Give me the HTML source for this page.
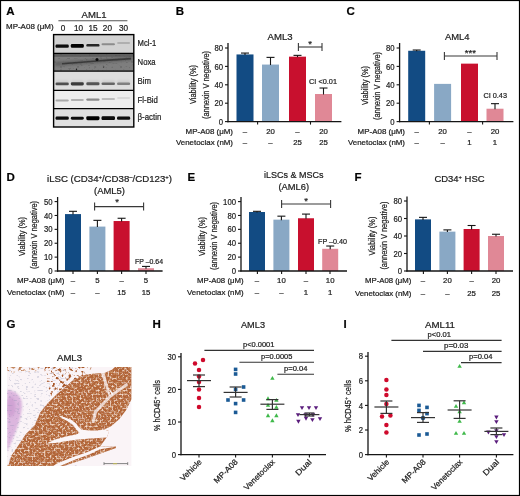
<!DOCTYPE html><html><head><meta charset="utf-8"><style>html,body{margin:0;padding:0;background:#fff;}svg{display:block;will-change:transform;}text{font-family:"Liberation Sans", sans-serif;stroke:#222;stroke-width:0.22px;}</style></head><body>
<svg width="520" height="496" viewBox="0 0 520 496">
<defs>
<filter id="blur1" x="-20%" y="-80%" width="140%" height="260%"><feGaussianBlur stdDeviation="0.5"/></filter>
<filter id="blur2" x="-20%" y="-50%" width="140%" height="200%"><feGaussianBlur stdDeviation="1.2"/></filter>
<filter id="tex" x="0" y="0" width="100%" height="100%">
  <feTurbulence type="fractalNoise" baseFrequency="0.5" numOctaves="2" seed="3" result="n"/>
  <feColorMatrix in="n" type="matrix" values="0 0 0 0 0.91  0 0 0 0 0.72  0 0 0 0 0.60  0 0 0 3.6 -1.8" result="m"/>
  <feGaussianBlur in="m" stdDeviation="0.5" result="mb"/>
  <feComposite in="mb" in2="SourceGraphic" operator="in" result="spots"/>
  <feTurbulence type="fractalNoise" baseFrequency="0.45" numOctaves="2" seed="17" result="n2"/>
  <feColorMatrix in="n2" type="matrix" values="0 0 0 0 0.62  0 0 0 0 0.31  0 0 0 0 0.15  0 0 0 -3.6 1.85" result="m2"/>
  <feGaussianBlur in="m2" stdDeviation="0.5" result="mb2"/>
  <feComposite in="mb2" in2="SourceGraphic" operator="in" result="dspots"/>
  <feMerge><feMergeNode in="SourceGraphic"/><feMergeNode in="dspots"/><feMergeNode in="spots"/></feMerge>
  <feGaussianBlur stdDeviation="0.4"/>
</filter>
<filter id="specks" x="0" y="0" width="100%" height="100%">
  <feTurbulence type="fractalNoise" baseFrequency="0.35 0.6" numOctaves="1" seed="8" result="n"/>
  <feColorMatrix in="n" type="matrix" values="0 0 0 0 0  0 0 0 0 0  0 0 0 0 0  0 0 0 -9 3.7" result="m"/>
  <feComposite in="SourceGraphic" in2="m" operator="in"/>
</filter>
<filter id="lace" x="0" y="0" width="100%" height="100%">
  <feTurbulence type="fractalNoise" baseFrequency="0.32" numOctaves="2" seed="11" result="n"/>
  <feColorMatrix in="n" type="matrix" values="0 0 0 0 0  0 0 0 0 0  0 0 0 0 0  0 0 0 -6 2.8" result="m"/>
  <feGaussianBlur in="m" stdDeviation="0.4" result="mb"/>
  <feComposite in="SourceGraphic" in2="mb" operator="in"/>
</filter>
</defs>
<rect x="0" y="0" width="520" height="496" fill="#fff" />
<text x="6.2" y="15.3" font-size="11.5" text-anchor="start" font-weight="bold" fill="#000" >A</text>
<text x="81.6" y="17.7" font-size="9.6" text-anchor="start" font-weight="normal" fill="#222" textLength="25" lengthAdjust="spacingAndGlyphs">AML1</text>
<line x1="58.4" y1="20.8" x2="127.4" y2="20.8" stroke="#555" stroke-width="1.1"/>
<text x="53.6" y="29.4" font-size="7.8" text-anchor="end" font-weight="normal" fill="#222" textLength="47.6" lengthAdjust="spacingAndGlyphs">MP-A08 (μM)</text>
<text x="63" y="31.4" font-size="8.2" text-anchor="middle" font-weight="normal" fill="#222" >0</text>
<text x="78.6" y="31.4" font-size="8.2" text-anchor="middle" font-weight="normal" fill="#222" >10</text>
<text x="93" y="31.4" font-size="8.2" text-anchor="middle" font-weight="normal" fill="#222" >15</text>
<text x="107.4" y="31.4" font-size="8.2" text-anchor="middle" font-weight="normal" fill="#222" >20</text>
<text x="123.6" y="31.4" font-size="8.2" text-anchor="middle" font-weight="normal" fill="#222" >30</text>
<rect x="53.6" y="34.6" width="80.2" height="18.8" fill="#d2d2d2" />
<rect x="53.6" y="53.4" width="80.2" height="17.8" fill="#7e7e7e" />
<rect x="53.6" y="71.2" width="80.2" height="19.1" fill="#dedede" />
<rect x="53.6" y="90.3" width="80.2" height="18.4" fill="#ededed" />
<rect x="53.6" y="108.7" width="80.2" height="18.3" fill="#e0e0e0" />
<rect x="55.5" y="44.6" width="13.3" height="3.2" rx="1.2" fill="#0a0a0a" opacity="1" filter="url(#blur1)"/>
<rect x="70.8" y="44.1" width="13" height="3.6" rx="1.2" fill="#050505" opacity="1" filter="url(#blur1)"/>
<rect x="86.3" y="44" width="13.2" height="2.6" rx="1.2" fill="#262626" opacity="1" filter="url(#blur1)"/>
<rect x="101.5" y="43.35" width="13.5" height="1.9" rx="1.2" fill="#8c8c8c" opacity="1" filter="url(#blur1)"/>
<rect x="117" y="42.35" width="13.2" height="1.5" rx="1.2" fill="#a4a4a4" opacity="1" filter="url(#blur1)"/>
<rect x="54" y="53.6" width="80" height="3.2" fill="#5e5e5e" filter="url(#blur1)"/>
<path d="M55,61.8 C70,61 85,59.6 100,58.6 C112,57.8 122,56.8 133,56 L133,60.6 C122,61.4 112,62.4 100,63.2 C85,64.2 70,65.4 55,66.2 Z" fill="#5a5a5a" opacity="0.7" filter="url(#blur2)"/>
<path d="M62,63 C75,62.2 88,61 100,60 C112,59.2 122,58.4 131,57.8 L131,59.4 C122,60 112,60.8 100,61.6 C88,62.6 75,63.6 62,64.4 Z" fill="#333" opacity="0.85" filter="url(#blur1)"/>
<circle cx="97" cy="59.4" r="1.5" fill="#0c0c0c"/>
<circle cx="76.5" cy="69.3" r="0.7" fill="#111"/>
<circle cx="103.5" cy="67" r="0.6" fill="#222"/>
<rect x="54" y="53.6" width="80" height="17.6" fill="#444" opacity="0.25" filter="url(#specks)"/>
<rect x="55.5" y="80.2" width="13.3" height="4" rx="1.5" fill="#c4c4c4" opacity="0.6" filter="url(#blur2)"/>
<rect x="55.5" y="82.4" width="13.3" height="2.8" rx="1.3" fill="#505050" opacity="1" filter="url(#blur1)"/>
<rect x="70.8" y="80.2" width="13" height="4" rx="1.5" fill="#c4c4c4" opacity="0.6" filter="url(#blur2)"/>
<rect x="70.8" y="82.2" width="13" height="3.2" rx="1.3" fill="#3a3a3a" opacity="1" filter="url(#blur1)"/>
<rect x="86.3" y="80.2" width="13.2" height="4" rx="1.5" fill="#c4c4c4" opacity="0.6" filter="url(#blur2)"/>
<rect x="86.3" y="82.3" width="13.2" height="3" rx="1.3" fill="#555555" opacity="1" filter="url(#blur1)"/>
<rect x="101.5" y="80.2" width="13.5" height="4" rx="1.5" fill="#c4c4c4" opacity="0.6" filter="url(#blur2)"/>
<rect x="101.5" y="82.5" width="13.5" height="2.6" rx="1.3" fill="#666666" opacity="1" filter="url(#blur1)"/>
<rect x="117" y="80.2" width="13.2" height="4" rx="1.5" fill="#c4c4c4" opacity="0.6" filter="url(#blur2)"/>
<rect x="117" y="82.6" width="13.2" height="2.4" rx="1.3" fill="#808080" opacity="1" filter="url(#blur1)"/>
<rect x="55.5" y="99.6" width="13.3" height="2" rx="1.2" fill="#a8a8a8" opacity="1" filter="url(#blur1)"/>
<rect x="70.8" y="99.1" width="13" height="2" rx="1.2" fill="#b0b0b0" opacity="1" filter="url(#blur1)"/>
<rect x="86.3" y="98.4" width="13.2" height="2.4" rx="1.2" fill="#8a8a8a" opacity="1" filter="url(#blur1)"/>
<rect x="101.5" y="98.1" width="13.5" height="1.8" rx="1.2" fill="#bcbcbc" opacity="1" filter="url(#blur1)"/>
<rect x="117" y="97.25" width="13.2" height="1.5" rx="1.2" fill="#d2d2d2" opacity="1" filter="url(#blur1)"/>
<rect x="55.5" y="116.55" width="13.3" height="3.3" rx="1.4" fill="#0a0a0a" opacity="1" filter="url(#blur1)"/>
<rect x="70.8" y="116.65" width="13" height="3.1" rx="1.4" fill="#0c0c0c" opacity="1" filter="url(#blur1)"/>
<rect x="86.3" y="116.2" width="13.2" height="4" rx="1.4" fill="#050505" opacity="1" filter="url(#blur1)"/>
<rect x="101.5" y="116.35" width="13.5" height="3.7" rx="1.4" fill="#070707" opacity="1" filter="url(#blur1)"/>
<rect x="117" y="116.55" width="13.2" height="3.3" rx="1.4" fill="#0a0a0a" opacity="1" filter="url(#blur1)"/>
<line x1="53.6" y1="53.4" x2="133.8" y2="53.4" stroke="#000" stroke-width="1.3"/>
<line x1="53.6" y1="71.2" x2="133.8" y2="71.2" stroke="#000" stroke-width="1.3"/>
<line x1="53.6" y1="90.3" x2="133.8" y2="90.3" stroke="#000" stroke-width="1.3"/>
<line x1="53.6" y1="108.7" x2="133.8" y2="108.7" stroke="#000" stroke-width="1.3"/>
<rect x="53.6" y="34.6" width="80.2" height="92.4" fill="none" stroke="#000" stroke-width="1.4"/>
<text x="137.6" y="45.8" font-size="8.7" text-anchor="start" font-weight="normal" fill="#222" textLength="18.7" lengthAdjust="spacingAndGlyphs">Mcl-1</text>
<text x="137.6" y="65" font-size="8.7" text-anchor="start" font-weight="normal" fill="#222" textLength="18" lengthAdjust="spacingAndGlyphs">Noxa</text>
<text x="137.6" y="83.8" font-size="8.7" text-anchor="start" font-weight="normal" fill="#222" textLength="13.5" lengthAdjust="spacingAndGlyphs">Bim</text>
<text x="137.6" y="102.6" font-size="8.7" text-anchor="start" font-weight="normal" fill="#222" textLength="20.3" lengthAdjust="spacingAndGlyphs">Fl-Bid</text>
<text x="137.6" y="119.8" font-size="8.7" text-anchor="start" font-weight="normal" fill="#222" textLength="23.7" lengthAdjust="spacingAndGlyphs">β-actin</text>
<text x="175.8" y="15.3" font-size="11.5" text-anchor="start" font-weight="bold" fill="#000" >B</text>
<text x="267.6" y="40" font-size="9.2" text-anchor="start" font-weight="normal" fill="#222" textLength="25" lengthAdjust="spacingAndGlyphs">AML3</text>
<rect x="236.5" y="54.44" width="17" height="67.16" fill="#124b83" />
<line x1="245" y1="53.06" x2="245" y2="54.94" stroke="#151515" stroke-width="1.1"/>
<line x1="241" y1="53.06" x2="249" y2="53.06" stroke="#151515" stroke-width="1.1"/>
<rect x="262" y="64.56" width="17" height="57.04" fill="#89a8c5" />
<line x1="270.5" y1="57.38" x2="270.5" y2="65.06" stroke="#151515" stroke-width="1.1"/>
<line x1="266.5" y1="57.38" x2="274.5" y2="57.38" stroke="#151515" stroke-width="1.1"/>
<rect x="289" y="56.65" width="17" height="64.95" fill="#c8102e" />
<line x1="297.5" y1="55.36" x2="297.5" y2="57.15" stroke="#151515" stroke-width="1.1"/>
<line x1="293.5" y1="55.36" x2="301.5" y2="55.36" stroke="#151515" stroke-width="1.1"/>
<rect x="315" y="94" width="17" height="27.6" fill="#e08896" />
<line x1="323.5" y1="88.02" x2="323.5" y2="94.5" stroke="#151515" stroke-width="1.1"/>
<line x1="319.5" y1="88.02" x2="327.5" y2="88.02" stroke="#151515" stroke-width="1.1"/>
<line x1="228" y1="43" x2="228" y2="122.2" stroke="#151515" stroke-width="1.3"/>
<line x1="227.4" y1="121.6" x2="341.4" y2="121.6" stroke="#151515" stroke-width="1.3"/>
<line x1="225" y1="121.6" x2="228" y2="121.6" stroke="#151515" stroke-width="1.1"/>
<text x="223" y="124.7" font-size="8.8" text-anchor="end" font-weight="normal" fill="#222" textLength="4.3" lengthAdjust="spacingAndGlyphs">0</text>
<line x1="225" y1="103.2" x2="228" y2="103.2" stroke="#151515" stroke-width="1.1"/>
<text x="223" y="106.3" font-size="8.8" text-anchor="end" font-weight="normal" fill="#222" textLength="8.6" lengthAdjust="spacingAndGlyphs">20</text>
<line x1="225" y1="84.8" x2="228" y2="84.8" stroke="#151515" stroke-width="1.1"/>
<text x="223" y="87.9" font-size="8.8" text-anchor="end" font-weight="normal" fill="#222" textLength="8.6" lengthAdjust="spacingAndGlyphs">40</text>
<line x1="225" y1="66.4" x2="228" y2="66.4" stroke="#151515" stroke-width="1.1"/>
<text x="223" y="69.5" font-size="8.8" text-anchor="end" font-weight="normal" fill="#222" textLength="8.6" lengthAdjust="spacingAndGlyphs">60</text>
<line x1="225" y1="48" x2="228" y2="48" stroke="#151515" stroke-width="1.1"/>
<text x="223" y="51.1" font-size="8.8" text-anchor="end" font-weight="normal" fill="#222" textLength="8.6" lengthAdjust="spacingAndGlyphs">80</text>
<line x1="257.6" y1="121.6" x2="257.6" y2="124.6" stroke="#151515" stroke-width="1.1"/>
<line x1="310.5" y1="121.6" x2="310.5" y2="124.6" stroke="#151515" stroke-width="1.1"/>
<text x="233" y="134" font-size="7.8" text-anchor="end" font-weight="normal" fill="#222" textLength="47.4" lengthAdjust="spacingAndGlyphs">MP-A08 (μM)</text>
<text x="233" y="145" font-size="7.8" text-anchor="end" font-weight="normal" fill="#222" textLength="57" lengthAdjust="spacingAndGlyphs">Venetoclax (nM)</text>
<text x="245" y="134" font-size="7.8" text-anchor="middle" font-weight="normal" fill="#222" >–</text>
<text x="245" y="145" font-size="7.8" text-anchor="middle" font-weight="normal" fill="#222" >–</text>
<text x="270.5" y="134" font-size="7.8" text-anchor="middle" font-weight="normal" fill="#222" >20</text>
<text x="270.5" y="145" font-size="7.8" text-anchor="middle" font-weight="normal" fill="#222" >–</text>
<text x="297.5" y="134" font-size="7.8" text-anchor="middle" font-weight="normal" fill="#222" >–</text>
<text x="297.5" y="145" font-size="7.8" text-anchor="middle" font-weight="normal" fill="#222" >25</text>
<text x="323.5" y="134" font-size="7.8" text-anchor="middle" font-weight="normal" fill="#222" >20</text>
<text x="323.5" y="145" font-size="7.8" text-anchor="middle" font-weight="normal" fill="#222" >25</text>
<text transform="translate(196.31,104) rotate(-90)" font-size="9.2" fill="#222" textLength="39" lengthAdjust="spacingAndGlyphs">Viability (%)</text>
<text transform="translate(209.31,119) rotate(-90)" font-size="9.2" fill="#222" textLength="68" lengthAdjust="spacingAndGlyphs">(annexin V negative)</text>
<line x1="298.4" y1="47" x2="322" y2="47" stroke="#383838" stroke-width="1.1"/>
<line x1="298.4" y1="43" x2="298.4" y2="51" stroke="#383838" stroke-width="1.1"/>
<line x1="322" y1="43" x2="322" y2="51" stroke="#383838" stroke-width="1.1"/>
<text x="310" y="47" font-size="9.5" text-anchor="middle" font-weight="normal" fill="#222" >*</text>
<text x="309" y="83.6" font-size="7.8" text-anchor="start" font-weight="normal" fill="#222" textLength="28" lengthAdjust="spacingAndGlyphs">CI &lt;0.01</text>
<text x="346.6" y="15.3" font-size="11.5" text-anchor="start" font-weight="bold" fill="#000" >C</text>
<text x="445" y="40" font-size="9.2" text-anchor="start" font-weight="normal" fill="#222" textLength="24.6" lengthAdjust="spacingAndGlyphs">AML4</text>
<rect x="408.2" y="50.76" width="17" height="70.84" fill="#124b83" />
<line x1="416.7" y1="50.02" x2="416.7" y2="51.26" stroke="#151515" stroke-width="1.1"/>
<line x1="412.7" y1="50.02" x2="420.7" y2="50.02" stroke="#151515" stroke-width="1.1"/>
<rect x="434.1" y="83.88" width="17" height="37.72" fill="#89a8c5" />
<rect x="461" y="63.64" width="17" height="57.96" fill="#c8102e" />
<rect x="486.5" y="108.72" width="17" height="12.88" fill="#e08896" />
<line x1="495" y1="103.66" x2="495" y2="109.22" stroke="#151515" stroke-width="1.1"/>
<line x1="491" y1="103.66" x2="499" y2="103.66" stroke="#151515" stroke-width="1.1"/>
<line x1="399.6" y1="43" x2="399.6" y2="122.2" stroke="#151515" stroke-width="1.3"/>
<line x1="399" y1="121.6" x2="513.4" y2="121.6" stroke="#151515" stroke-width="1.3"/>
<line x1="396.6" y1="121.6" x2="399.6" y2="121.6" stroke="#151515" stroke-width="1.1"/>
<text x="394.6" y="124.7" font-size="8.8" text-anchor="end" font-weight="normal" fill="#222" textLength="4.3" lengthAdjust="spacingAndGlyphs">0</text>
<line x1="396.6" y1="103.2" x2="399.6" y2="103.2" stroke="#151515" stroke-width="1.1"/>
<text x="394.6" y="106.3" font-size="8.8" text-anchor="end" font-weight="normal" fill="#222" textLength="8.6" lengthAdjust="spacingAndGlyphs">20</text>
<line x1="396.6" y1="84.8" x2="399.6" y2="84.8" stroke="#151515" stroke-width="1.1"/>
<text x="394.6" y="87.9" font-size="8.8" text-anchor="end" font-weight="normal" fill="#222" textLength="8.6" lengthAdjust="spacingAndGlyphs">40</text>
<line x1="396.6" y1="66.4" x2="399.6" y2="66.4" stroke="#151515" stroke-width="1.1"/>
<text x="394.6" y="69.5" font-size="8.8" text-anchor="end" font-weight="normal" fill="#222" textLength="8.6" lengthAdjust="spacingAndGlyphs">60</text>
<line x1="396.6" y1="48" x2="399.6" y2="48" stroke="#151515" stroke-width="1.1"/>
<text x="394.6" y="51.1" font-size="8.8" text-anchor="end" font-weight="normal" fill="#222" textLength="8.6" lengthAdjust="spacingAndGlyphs">80</text>
<line x1="429.4" y1="121.6" x2="429.4" y2="124.6" stroke="#151515" stroke-width="1.1"/>
<line x1="482.6" y1="121.6" x2="482.6" y2="124.6" stroke="#151515" stroke-width="1.1"/>
<text x="405" y="134" font-size="7.8" text-anchor="end" font-weight="normal" fill="#222" textLength="47.4" lengthAdjust="spacingAndGlyphs">MP-A08 (μM)</text>
<text x="405" y="145" font-size="7.8" text-anchor="end" font-weight="normal" fill="#222" textLength="57" lengthAdjust="spacingAndGlyphs">Venetoclax (nM)</text>
<text x="416.7" y="134" font-size="7.8" text-anchor="middle" font-weight="normal" fill="#222" >–</text>
<text x="416.7" y="145" font-size="7.8" text-anchor="middle" font-weight="normal" fill="#222" >–</text>
<text x="442.6" y="134" font-size="7.8" text-anchor="middle" font-weight="normal" fill="#222" >20</text>
<text x="442.6" y="145" font-size="7.8" text-anchor="middle" font-weight="normal" fill="#222" >–</text>
<text x="469.5" y="134" font-size="7.8" text-anchor="middle" font-weight="normal" fill="#222" >–</text>
<text x="469.5" y="145" font-size="7.8" text-anchor="middle" font-weight="normal" fill="#222" >1</text>
<text x="495" y="134" font-size="7.8" text-anchor="middle" font-weight="normal" fill="#222" >20</text>
<text x="495" y="145" font-size="7.8" text-anchor="middle" font-weight="normal" fill="#222" >1</text>
<text transform="translate(368.31,105) rotate(-90)" font-size="9.2" fill="#222" textLength="39" lengthAdjust="spacingAndGlyphs">Viability (%)</text>
<text transform="translate(379.91,120) rotate(-90)" font-size="9.2" fill="#222" textLength="68" lengthAdjust="spacingAndGlyphs">(annexin V negative)</text>
<line x1="444.4" y1="56" x2="497" y2="56" stroke="#383838" stroke-width="1.1"/>
<line x1="444.4" y1="52" x2="444.4" y2="60" stroke="#383838" stroke-width="1.1"/>
<line x1="497" y1="52" x2="497" y2="60" stroke="#383838" stroke-width="1.1"/>
<text x="470.4" y="56.2" font-size="9.5" text-anchor="middle" font-weight="normal" fill="#222" >***</text>
<text x="483.4" y="97.6" font-size="7.8" text-anchor="start" font-weight="normal" fill="#222" textLength="23.6" lengthAdjust="spacingAndGlyphs">CI 0.43</text>
<text x="6.6" y="181.4" font-size="11.5" text-anchor="start" font-weight="bold" fill="#000" >D</text>
<text x="47" y="181.6" font-size="9.2" text-anchor="start" font-weight="normal" fill="#222" textLength="125" lengthAdjust="spacingAndGlyphs">iLSC (CD34<tspan font-size="5.6" dy="-3">+</tspan><tspan dy="3">/CD38</tspan><tspan font-size="5.6" dy="-3">–</tspan><tspan dy="3">/CD123</tspan><tspan font-size="5.6" dy="-3">+</tspan><tspan dy="3">)</tspan></text>
<text x="94" y="193.6" font-size="9.2" text-anchor="start" font-weight="normal" fill="#222" textLength="31" lengthAdjust="spacingAndGlyphs">(AML5)</text>
<rect x="65" y="214.09" width="16" height="56.91" fill="#124b83" />
<line x1="73" y1="211.32" x2="73" y2="214.59" stroke="#151515" stroke-width="1.1"/>
<line x1="69" y1="211.32" x2="77" y2="211.32" stroke="#151515" stroke-width="1.1"/>
<rect x="89.4" y="226.58" width="16" height="44.42" fill="#89a8c5" />
<line x1="97.4" y1="220.34" x2="97.4" y2="227.08" stroke="#151515" stroke-width="1.1"/>
<line x1="93.4" y1="220.34" x2="101.4" y2="220.34" stroke="#151515" stroke-width="1.1"/>
<rect x="113.6" y="221.03" width="16" height="49.97" fill="#c8102e" />
<line x1="121.6" y1="218.26" x2="121.6" y2="221.53" stroke="#151515" stroke-width="1.1"/>
<line x1="117.6" y1="218.26" x2="125.6" y2="218.26" stroke="#151515" stroke-width="1.1"/>
<rect x="138" y="268.22" width="16" height="2.78" fill="#e08896" />
<line x1="146" y1="266.42" x2="146" y2="268.72" stroke="#151515" stroke-width="1.1"/>
<line x1="142" y1="266.42" x2="150" y2="266.42" stroke="#151515" stroke-width="1.1"/>
<line x1="57.6" y1="197" x2="57.6" y2="271.6" stroke="#151515" stroke-width="1.3"/>
<line x1="57" y1="271" x2="162.6" y2="271" stroke="#151515" stroke-width="1.3"/>
<line x1="54.6" y1="271" x2="57.6" y2="271" stroke="#151515" stroke-width="1.1"/>
<text x="52.6" y="274.1" font-size="8.8" text-anchor="end" font-weight="normal" fill="#222" textLength="4.3" lengthAdjust="spacingAndGlyphs">0</text>
<line x1="54.6" y1="257.12" x2="57.6" y2="257.12" stroke="#151515" stroke-width="1.1"/>
<text x="52.6" y="260.22" font-size="8.8" text-anchor="end" font-weight="normal" fill="#222" textLength="8.6" lengthAdjust="spacingAndGlyphs">10</text>
<line x1="54.6" y1="243.24" x2="57.6" y2="243.24" stroke="#151515" stroke-width="1.1"/>
<text x="52.6" y="246.34" font-size="8.8" text-anchor="end" font-weight="normal" fill="#222" textLength="8.6" lengthAdjust="spacingAndGlyphs">20</text>
<line x1="54.6" y1="229.36" x2="57.6" y2="229.36" stroke="#151515" stroke-width="1.1"/>
<text x="52.6" y="232.46" font-size="8.8" text-anchor="end" font-weight="normal" fill="#222" textLength="8.6" lengthAdjust="spacingAndGlyphs">30</text>
<line x1="54.6" y1="215.48" x2="57.6" y2="215.48" stroke="#151515" stroke-width="1.1"/>
<text x="52.6" y="218.58" font-size="8.8" text-anchor="end" font-weight="normal" fill="#222" textLength="8.6" lengthAdjust="spacingAndGlyphs">40</text>
<line x1="54.6" y1="201.6" x2="57.6" y2="201.6" stroke="#151515" stroke-width="1.1"/>
<text x="52.6" y="204.7" font-size="8.8" text-anchor="end" font-weight="normal" fill="#222" textLength="8.6" lengthAdjust="spacingAndGlyphs">50</text>
<line x1="73" y1="271" x2="73" y2="274" stroke="#151515" stroke-width="1.1"/>
<line x1="97.4" y1="271" x2="97.4" y2="274" stroke="#151515" stroke-width="1.1"/>
<line x1="121.6" y1="271" x2="121.6" y2="274" stroke="#151515" stroke-width="1.1"/>
<line x1="146" y1="271" x2="146" y2="274" stroke="#151515" stroke-width="1.1"/>
<text x="64.4" y="283" font-size="7.8" text-anchor="end" font-weight="normal" fill="#222" textLength="47.4" lengthAdjust="spacingAndGlyphs">MP-A08 (μM)</text>
<text x="64.4" y="295" font-size="7.8" text-anchor="end" font-weight="normal" fill="#222" textLength="57.4" lengthAdjust="spacingAndGlyphs">Venetoclax (nM)</text>
<text x="73" y="283" font-size="7.8" text-anchor="middle" font-weight="normal" fill="#222" >–</text>
<text x="73" y="295" font-size="7.8" text-anchor="middle" font-weight="normal" fill="#222" >–</text>
<text x="97.4" y="283" font-size="7.8" text-anchor="middle" font-weight="normal" fill="#222" >5</text>
<text x="97.4" y="295" font-size="7.8" text-anchor="middle" font-weight="normal" fill="#222" >–</text>
<text x="121.6" y="283" font-size="7.8" text-anchor="middle" font-weight="normal" fill="#222" >–</text>
<text x="121.6" y="295" font-size="7.8" text-anchor="middle" font-weight="normal" fill="#222" >15</text>
<text x="146" y="283" font-size="7.8" text-anchor="middle" font-weight="normal" fill="#222" >5</text>
<text x="146" y="295" font-size="7.8" text-anchor="middle" font-weight="normal" fill="#222" >15</text>
<text transform="translate(25.31,256) rotate(-90)" font-size="9.2" fill="#222" textLength="39" lengthAdjust="spacingAndGlyphs">Viability (%)</text>
<text transform="translate(37.31,269) rotate(-90)" font-size="9.2" fill="#222" textLength="68" lengthAdjust="spacingAndGlyphs">(annexin V negative)</text>
<line x1="94.6" y1="206.6" x2="143.6" y2="206.6" stroke="#383838" stroke-width="1.1"/>
<line x1="94.6" y1="202.6" x2="94.6" y2="210.6" stroke="#383838" stroke-width="1.1"/>
<line x1="143.6" y1="202.6" x2="143.6" y2="210.6" stroke="#383838" stroke-width="1.1"/>
<text x="117" y="204.6" font-size="9.5" text-anchor="middle" font-weight="normal" fill="#222" >*</text>
<text x="135" y="264.4" font-size="7.8" text-anchor="start" font-weight="normal" fill="#222" textLength="28" lengthAdjust="spacingAndGlyphs">FP –0.64</text>
<text x="187.4" y="181.4" font-size="11.5" text-anchor="start" font-weight="bold" fill="#000" >E</text>
<text x="264" y="178" font-size="9.2" text-anchor="start" font-weight="normal" fill="#222" textLength="59.4" lengthAdjust="spacingAndGlyphs">iLSCs &amp; MSCs</text>
<text x="278.4" y="190" font-size="9.2" text-anchor="start" font-weight="normal" fill="#222" textLength="30.6" lengthAdjust="spacingAndGlyphs">(AML6)</text>
<rect x="249" y="212.01" width="16" height="58.99" fill="#124b83" />
<line x1="257" y1="211.32" x2="257" y2="212.51" stroke="#151515" stroke-width="1.1"/>
<line x1="253" y1="211.32" x2="261" y2="211.32" stroke="#151515" stroke-width="1.1"/>
<rect x="273.4" y="219.64" width="16" height="51.36" fill="#89a8c5" />
<line x1="281.4" y1="216.17" x2="281.4" y2="220.14" stroke="#151515" stroke-width="1.1"/>
<line x1="277.4" y1="216.17" x2="285.4" y2="216.17" stroke="#151515" stroke-width="1.1"/>
<rect x="298" y="218.26" width="16" height="52.74" fill="#c8102e" />
<line x1="306" y1="214.09" x2="306" y2="218.76" stroke="#151515" stroke-width="1.1"/>
<line x1="302" y1="214.09" x2="310" y2="214.09" stroke="#151515" stroke-width="1.1"/>
<rect x="322.2" y="248.79" width="16" height="22.21" fill="#e08896" />
<line x1="330.2" y1="246.02" x2="330.2" y2="249.29" stroke="#151515" stroke-width="1.1"/>
<line x1="326.2" y1="246.02" x2="334.2" y2="246.02" stroke="#151515" stroke-width="1.1"/>
<line x1="241" y1="197" x2="241" y2="271.6" stroke="#151515" stroke-width="1.3"/>
<line x1="240.4" y1="271" x2="347" y2="271" stroke="#151515" stroke-width="1.3"/>
<line x1="238" y1="271" x2="241" y2="271" stroke="#151515" stroke-width="1.1"/>
<text x="236" y="274.1" font-size="8.8" text-anchor="end" font-weight="normal" fill="#222" textLength="4.3" lengthAdjust="spacingAndGlyphs">0</text>
<line x1="238" y1="257.12" x2="241" y2="257.12" stroke="#151515" stroke-width="1.1"/>
<text x="236" y="260.22" font-size="8.8" text-anchor="end" font-weight="normal" fill="#222" textLength="8.6" lengthAdjust="spacingAndGlyphs">20</text>
<line x1="238" y1="243.24" x2="241" y2="243.24" stroke="#151515" stroke-width="1.1"/>
<text x="236" y="246.34" font-size="8.8" text-anchor="end" font-weight="normal" fill="#222" textLength="8.6" lengthAdjust="spacingAndGlyphs">40</text>
<line x1="238" y1="229.36" x2="241" y2="229.36" stroke="#151515" stroke-width="1.1"/>
<text x="236" y="232.46" font-size="8.8" text-anchor="end" font-weight="normal" fill="#222" textLength="8.6" lengthAdjust="spacingAndGlyphs">60</text>
<line x1="238" y1="215.48" x2="241" y2="215.48" stroke="#151515" stroke-width="1.1"/>
<text x="236" y="218.58" font-size="8.8" text-anchor="end" font-weight="normal" fill="#222" textLength="8.6" lengthAdjust="spacingAndGlyphs">80</text>
<line x1="238" y1="201.6" x2="241" y2="201.6" stroke="#151515" stroke-width="1.1"/>
<text x="236" y="204.7" font-size="8.8" text-anchor="end" font-weight="normal" fill="#222" textLength="12.9" lengthAdjust="spacingAndGlyphs">100</text>
<line x1="257.4" y1="271" x2="257.4" y2="274" stroke="#151515" stroke-width="1.1"/>
<line x1="281.6" y1="271" x2="281.6" y2="274" stroke="#151515" stroke-width="1.1"/>
<line x1="306" y1="271" x2="306" y2="274" stroke="#151515" stroke-width="1.1"/>
<line x1="330" y1="271" x2="330" y2="274" stroke="#151515" stroke-width="1.1"/>
<text x="243.6" y="283" font-size="7.8" text-anchor="end" font-weight="normal" fill="#222" textLength="46.6" lengthAdjust="spacingAndGlyphs">MP-A08 (μM)</text>
<text x="243.6" y="295.4" font-size="7.8" text-anchor="end" font-weight="normal" fill="#222" textLength="56.6" lengthAdjust="spacingAndGlyphs">Venetoclax (nM)</text>
<text x="257" y="283" font-size="7.8" text-anchor="middle" font-weight="normal" fill="#222" >–</text>
<text x="257" y="295.4" font-size="7.8" text-anchor="middle" font-weight="normal" fill="#222" >–</text>
<text x="281.4" y="283" font-size="7.8" text-anchor="middle" font-weight="normal" fill="#222" >10</text>
<text x="281.4" y="295.4" font-size="7.8" text-anchor="middle" font-weight="normal" fill="#222" >–</text>
<text x="306" y="283" font-size="7.8" text-anchor="middle" font-weight="normal" fill="#222" >–</text>
<text x="306" y="295.4" font-size="7.8" text-anchor="middle" font-weight="normal" fill="#222" >1</text>
<text x="330.2" y="283" font-size="7.8" text-anchor="middle" font-weight="normal" fill="#222" >10</text>
<text x="330.2" y="295.4" font-size="7.8" text-anchor="middle" font-weight="normal" fill="#222" >1</text>
<text transform="translate(205.31,256) rotate(-90)" font-size="9.2" fill="#222" textLength="39" lengthAdjust="spacingAndGlyphs">Viability (%)</text>
<text transform="translate(217.31,270) rotate(-90)" font-size="9.2" fill="#222" textLength="68" lengthAdjust="spacingAndGlyphs">(annexin V negative)</text>
<line x1="281.6" y1="204" x2="330.6" y2="204" stroke="#383838" stroke-width="1.1"/>
<line x1="281.6" y1="200" x2="281.6" y2="208" stroke="#383838" stroke-width="1.1"/>
<line x1="330.6" y1="200" x2="330.6" y2="208" stroke="#383838" stroke-width="1.1"/>
<text x="306" y="203.6" font-size="9.5" text-anchor="middle" font-weight="normal" fill="#222" >*</text>
<text x="318" y="243.8" font-size="7.8" text-anchor="start" font-weight="normal" fill="#222" textLength="29" lengthAdjust="spacingAndGlyphs">FP –0.40</text>
<text x="354.6" y="181.4" font-size="11.5" text-anchor="start" font-weight="bold" fill="#000" >F</text>
<text x="434.4" y="181.6" font-size="9.2" text-anchor="start" font-weight="normal" fill="#222" textLength="50.2" lengthAdjust="spacingAndGlyphs">CD34<tspan font-size="5.6" dy="-3">+</tspan><tspan dy="3"> HSC</tspan></text>
<rect x="415" y="219.38" width="16" height="51.62" fill="#124b83" />
<line x1="423" y1="217.36" x2="423" y2="219.88" stroke="#151515" stroke-width="1.1"/>
<line x1="419" y1="217.36" x2="427" y2="217.36" stroke="#151515" stroke-width="1.1"/>
<rect x="439.4" y="231.62" width="16" height="39.38" fill="#89a8c5" />
<line x1="447.4" y1="229.88" x2="447.4" y2="232.12" stroke="#151515" stroke-width="1.1"/>
<line x1="443.4" y1="229.88" x2="451.4" y2="229.88" stroke="#151515" stroke-width="1.1"/>
<rect x="463.6" y="229" width="16" height="42" fill="#c8102e" />
<line x1="471.6" y1="225.5" x2="471.6" y2="229.5" stroke="#151515" stroke-width="1.1"/>
<line x1="467.6" y1="225.5" x2="475.6" y2="225.5" stroke="#151515" stroke-width="1.1"/>
<rect x="488" y="236" width="16" height="35" fill="#e08896" />
<line x1="496" y1="234.25" x2="496" y2="236.5" stroke="#151515" stroke-width="1.1"/>
<line x1="492" y1="234.25" x2="500" y2="234.25" stroke="#151515" stroke-width="1.1"/>
<line x1="407" y1="196.6" x2="407" y2="271.6" stroke="#151515" stroke-width="1.3"/>
<line x1="406.4" y1="271" x2="513" y2="271" stroke="#151515" stroke-width="1.3"/>
<line x1="404" y1="271" x2="407" y2="271" stroke="#151515" stroke-width="1.1"/>
<text x="402" y="274.1" font-size="8.8" text-anchor="end" font-weight="normal" fill="#222" textLength="4.3" lengthAdjust="spacingAndGlyphs">0</text>
<line x1="404" y1="253.5" x2="407" y2="253.5" stroke="#151515" stroke-width="1.1"/>
<text x="402" y="256.6" font-size="8.8" text-anchor="end" font-weight="normal" fill="#222" textLength="8.6" lengthAdjust="spacingAndGlyphs">20</text>
<line x1="404" y1="236" x2="407" y2="236" stroke="#151515" stroke-width="1.1"/>
<text x="402" y="239.1" font-size="8.8" text-anchor="end" font-weight="normal" fill="#222" textLength="8.6" lengthAdjust="spacingAndGlyphs">40</text>
<line x1="404" y1="218.5" x2="407" y2="218.5" stroke="#151515" stroke-width="1.1"/>
<text x="402" y="221.6" font-size="8.8" text-anchor="end" font-weight="normal" fill="#222" textLength="8.6" lengthAdjust="spacingAndGlyphs">60</text>
<line x1="404" y1="201" x2="407" y2="201" stroke="#151515" stroke-width="1.1"/>
<text x="402" y="204.1" font-size="8.8" text-anchor="end" font-weight="normal" fill="#222" textLength="8.6" lengthAdjust="spacingAndGlyphs">80</text>
<line x1="423.4" y1="271" x2="423.4" y2="274" stroke="#151515" stroke-width="1.1"/>
<line x1="447.4" y1="271" x2="447.4" y2="274" stroke="#151515" stroke-width="1.1"/>
<line x1="471.6" y1="271" x2="471.6" y2="274" stroke="#151515" stroke-width="1.1"/>
<line x1="496" y1="271" x2="496" y2="274" stroke="#151515" stroke-width="1.1"/>
<text x="411.4" y="283.2" font-size="7.8" text-anchor="end" font-weight="normal" fill="#222" textLength="46.4" lengthAdjust="spacingAndGlyphs">MP-A08 (μM)</text>
<text x="411.4" y="296" font-size="7.8" text-anchor="end" font-weight="normal" fill="#222" textLength="56.4" lengthAdjust="spacingAndGlyphs">Venetoclax (nM)</text>
<text x="423" y="283.2" font-size="7.8" text-anchor="middle" font-weight="normal" fill="#222" >–</text>
<text x="423" y="296" font-size="7.8" text-anchor="middle" font-weight="normal" fill="#222" >–</text>
<text x="447.4" y="283.2" font-size="7.8" text-anchor="middle" font-weight="normal" fill="#222" >20</text>
<text x="447.4" y="296" font-size="7.8" text-anchor="middle" font-weight="normal" fill="#222" >–</text>
<text x="471.6" y="283.2" font-size="7.8" text-anchor="middle" font-weight="normal" fill="#222" >–</text>
<text x="471.6" y="296" font-size="7.8" text-anchor="middle" font-weight="normal" fill="#222" >25</text>
<text x="496" y="283.2" font-size="7.8" text-anchor="middle" font-weight="normal" fill="#222" >20</text>
<text x="496" y="296" font-size="7.8" text-anchor="middle" font-weight="normal" fill="#222" >25</text>
<text transform="translate(375.31,255.6) rotate(-90)" font-size="9.2" fill="#222" textLength="39" lengthAdjust="spacingAndGlyphs">Viability (%)</text>
<text transform="translate(387.31,269.6) rotate(-90)" font-size="9.2" fill="#222" textLength="68" lengthAdjust="spacingAndGlyphs">(annexin V negative)</text>
<text x="6.6" y="328" font-size="11.5" text-anchor="start" font-weight="bold" fill="#000" >G</text>
<text x="57" y="360.6" font-size="9.2" text-anchor="start" font-weight="normal" fill="#222" textLength="25" lengthAdjust="spacingAndGlyphs">AML3</text>
<clipPath id="gclip"><rect x="7" y="367" width="124.6" height="99"/></clipPath>
<g clip-path="url(#gclip)">
<rect x="7" y="367" width="124.6" height="99" fill="#faf4f7" />
<path d="M7,390 C15,390 22,396 22,405 C22,418 15,434 7,452 Z" fill="#dcb6de" filter="url(#blur2)"/>
<ellipse cx="11" cy="407" rx="4.5" ry="10" fill="#c894cc" opacity="0.55" filter="url(#blur2)"/>
<rect x="7" y="367" width="70" height="99" fill="#8a8fb0" opacity="0.3" filter="url(#specks)"/>
<path d="M7,367 L40,367 L38,371 L20,372 L7,373 Z" fill="#b8703e" opacity="0.85" filter="url(#lace)"/>
<path d="M44,367 L92,367 L88,373 L72,382 L58,392 L51,396 L47,382 Z" fill="#a8582a" filter="url(#lace)"/>
<path d="M112,369.7 L115,367 L131.6,367 L131.6,399 L126.2,410 L119.2,419.2 L111,426.3 L104,429.5 L109,431 L107,437 L100,446.5 L116,446.5 L116,448 L85,459 L63.5,466 L7,466 L8.5,465 L11.2,456 L18.5,445.2 L25.7,434.3 L34.8,425.3 L40.2,412.6 L47.5,403.5 L56.5,394.5 L72,381.3 L86,374.6 L96,373.6 L104.4,373 Z" fill="#b26538" filter="url(#tex)"/>
<path d="M58,415.3 L66,417.8 L72,420.2 L76,423.5 L79,427.5 L82,429.8 L90,430.6 L98,430.6 L104,429.5 L109,431 L107,437.5 L90,438.4 L76,439.8 L66,441.3 L55,443.1 L46.5,443.6 L55,439.6 L66,436.6 L76,434.6 L79.5,433 L76,429 L73,425 L69,422 L63,418.8 Z" fill="#fbf6f8"/>
<path d="M127,382.5 L109.5,395 L94,411 L91.5,423 L94.5,423 L97,412.5 L111,397.5 L128,385.5 Z" fill="#fbf6f8" opacity="0.75"/>
<path d="M112,395 L109,390 L110,389.5 L113.5,394 Z" fill="#fbf6f8"/>
<path d="M100.5,372 L104.5,372.5 L110.5,395.5 L108.8,396.5 Z" fill="#fbf6f8" opacity="0.75"/>
<path d="M100,446.5 L87,452.2 L74.4,456.6 L58,463 L53,466 L60,466 L76,459.2 L88,455 L100,449.3 L116,446.8 Z" fill="#fbf6f8"/>
<line x1="104" y1="463.6" x2="127.7" y2="463.6" stroke="#777" stroke-width="0.9"/>
<line x1="104" y1="462.2" x2="104" y2="465" stroke="#777" stroke-width="0.9"/>
<line x1="127.7" y1="462.2" x2="127.7" y2="465" stroke="#777" stroke-width="0.9"/>
<rect x="113" y="463" width="4" height="1.3" fill="#c8c050" opacity="0.7"/>
</g>
<text x="152.6" y="328" font-size="11.5" text-anchor="start" font-weight="bold" fill="#000" >H</text>
<text x="241" y="328" font-size="9.2" text-anchor="start" font-weight="normal" fill="#222" textLength="24" lengthAdjust="spacingAndGlyphs">AML3</text>
<line x1="181" y1="353" x2="181" y2="455.2" stroke="#151515" stroke-width="1.3"/>
<line x1="180.4" y1="454.6" x2="326" y2="454.6" stroke="#151515" stroke-width="1.3"/>
<line x1="178" y1="454.6" x2="181" y2="454.6" stroke="#151515" stroke-width="1.1"/>
<text x="176" y="457.7" font-size="8.8" text-anchor="end" font-weight="normal" fill="#222" textLength="4.3" lengthAdjust="spacingAndGlyphs">0</text>
<line x1="178" y1="422" x2="181" y2="422" stroke="#151515" stroke-width="1.1"/>
<text x="176" y="425.1" font-size="8.8" text-anchor="end" font-weight="normal" fill="#222" textLength="8.6" lengthAdjust="spacingAndGlyphs">10</text>
<line x1="178" y1="389.4" x2="181" y2="389.4" stroke="#151515" stroke-width="1.1"/>
<text x="176" y="392.5" font-size="8.8" text-anchor="end" font-weight="normal" fill="#222" textLength="8.6" lengthAdjust="spacingAndGlyphs">20</text>
<line x1="178" y1="356.8" x2="181" y2="356.8" stroke="#151515" stroke-width="1.1"/>
<text x="176" y="359.9" font-size="8.8" text-anchor="end" font-weight="normal" fill="#222" textLength="8.6" lengthAdjust="spacingAndGlyphs">30</text>
<line x1="199" y1="454.6" x2="199" y2="457.6" stroke="#151515" stroke-width="1.1"/>
<line x1="235.6" y1="454.6" x2="235.6" y2="457.6" stroke="#151515" stroke-width="1.1"/>
<line x1="272.4" y1="454.6" x2="272.4" y2="457.6" stroke="#151515" stroke-width="1.1"/>
<line x1="309.4" y1="454.6" x2="309.4" y2="457.6" stroke="#151515" stroke-width="1.1"/>
<text transform="translate(160,431) rotate(-90)" font-size="8.5" fill="#222" textLength="51" lengthAdjust="spacingAndGlyphs">% hCD45<tspan font-size="5.6" dy="-3">+</tspan><tspan dy="3"> cells</tspan></text>
<line x1="204.4" y1="350.4" x2="314" y2="350.4" stroke="#333" stroke-width="1.1"/>
<text x="243" y="346.8" font-size="7.4" text-anchor="start" font-weight="normal" fill="#222" textLength="31.4" lengthAdjust="spacingAndGlyphs">p&lt;0.0001</text>
<line x1="239.4" y1="362.2" x2="314" y2="362.2" stroke="#333" stroke-width="1.1"/>
<text x="261" y="358.6" font-size="7.4" text-anchor="start" font-weight="normal" fill="#222" textLength="31.4" lengthAdjust="spacingAndGlyphs">p=0.0005</text>
<line x1="277.4" y1="374.2" x2="314" y2="374.2" stroke="#333" stroke-width="1.1"/>
<text x="284" y="370.6" font-size="7.4" text-anchor="start" font-weight="normal" fill="#222" textLength="23.4" lengthAdjust="spacingAndGlyphs">p=0.04</text>
<circle cx="195" cy="363.6" r="2.25" fill="#cf0a2c"/>
<circle cx="203" cy="360" r="2.25" fill="#cf0a2c"/>
<circle cx="199" cy="370" r="2.25" fill="#cf0a2c"/>
<circle cx="199" cy="376.6" r="2.25" fill="#cf0a2c"/>
<circle cx="199" cy="382" r="2.25" fill="#cf0a2c"/>
<circle cx="199" cy="389.4" r="2.25" fill="#cf0a2c"/>
<circle cx="199" cy="398" r="2.25" fill="#cf0a2c"/>
<circle cx="199" cy="407" r="2.25" fill="#cf0a2c"/>
<line x1="187" y1="380.6" x2="211" y2="380.6" stroke="#333" stroke-width="1.2"/>
<line x1="193" y1="375" x2="205" y2="375" stroke="#333" stroke-width="1.2"/>
<line x1="193" y1="386.6" x2="205" y2="386.6" stroke="#333" stroke-width="1.2"/>
<line x1="199" y1="375" x2="199" y2="386.6" stroke="#333" stroke-width="1.2"/>
<rect x="233.8" y="367.6" width="3.6" height="3.6" fill="#1b5a95"/>
<rect x="233.8" y="372.2" width="3.6" height="3.6" fill="#1b5a95"/>
<rect x="241.8" y="385.2" width="3.6" height="3.6" fill="#1b5a95"/>
<rect x="233.8" y="387.6" width="3.6" height="3.6" fill="#1b5a95"/>
<rect x="226.2" y="398.2" width="3.6" height="3.6" fill="#1b5a95"/>
<rect x="241.8" y="398.2" width="3.6" height="3.6" fill="#1b5a95"/>
<rect x="233.8" y="401.8" width="3.6" height="3.6" fill="#1b5a95"/>
<rect x="233.8" y="410.6" width="3.6" height="3.6" fill="#1b5a95"/>
<line x1="223.6" y1="392.4" x2="247.6" y2="392.4" stroke="#333" stroke-width="1.2"/>
<line x1="229.6" y1="387" x2="241.6" y2="387" stroke="#333" stroke-width="1.2"/>
<line x1="229.6" y1="397" x2="241.6" y2="397" stroke="#333" stroke-width="1.2"/>
<line x1="235.6" y1="387" x2="235.6" y2="397" stroke="#333" stroke-width="1.2"/>
<path d="M272.4,375.9 L274.6,379.8 L270.2,379.8 Z" fill="#3fb94a"/>
<path d="M268,396.3 L270.2,400.2 L265.8,400.2 Z" fill="#3fb94a"/>
<path d="M276.4,397.9 L278.6,401.8 L274.2,401.8 Z" fill="#3fb94a"/>
<path d="M268,402.9 L270.2,406.8 L265.8,406.8 Z" fill="#3fb94a"/>
<path d="M276.4,404.9 L278.6,408.8 L274.2,408.8 Z" fill="#3fb94a"/>
<path d="M268,413.3 L270.2,417.2 L265.8,417.2 Z" fill="#3fb94a"/>
<path d="M276.4,413.3 L278.6,417.2 L274.2,417.2 Z" fill="#3fb94a"/>
<path d="M272.4,418.3 L274.6,422.2 L270.2,422.2 Z" fill="#3fb94a"/>
<line x1="260.4" y1="404.2" x2="284.4" y2="404.2" stroke="#333" stroke-width="1.2"/>
<line x1="266.4" y1="399.6" x2="278.4" y2="399.6" stroke="#333" stroke-width="1.2"/>
<line x1="266.4" y1="409.4" x2="278.4" y2="409.4" stroke="#333" stroke-width="1.2"/>
<line x1="272.4" y1="399.6" x2="272.4" y2="409.4" stroke="#333" stroke-width="1.2"/>
<path d="M302,410.1 L304.2,406.2 L299.8,406.2 Z" fill="#5a1c7c"/>
<path d="M309,410.1 L311.2,406.2 L306.8,406.2 Z" fill="#5a1c7c"/>
<path d="M316,410.1 L318.2,406.2 L313.8,406.2 Z" fill="#5a1c7c"/>
<path d="M298,417.1 L300.2,413.2 L295.8,413.2 Z" fill="#5a1c7c"/>
<path d="M305.6,417.1 L307.8,413.2 L303.4,413.2 Z" fill="#5a1c7c"/>
<path d="M313,417.1 L315.2,413.2 L310.8,413.2 Z" fill="#5a1c7c"/>
<path d="M320,421.1 L322.2,417.2 L317.8,417.2 Z" fill="#5a1c7c"/>
<path d="M298.4,423.7 L300.6,419.8 L296.2,419.8 Z" fill="#5a1c7c"/>
<path d="M306,420.7 L308.2,416.8 L303.8,416.8 Z" fill="#5a1c7c"/>
<path d="M312.4,422.1 L314.6,418.2 L310.2,418.2 Z" fill="#5a1c7c"/>
<line x1="299.4" y1="414.6" x2="319.4" y2="414.6" stroke="#333" stroke-width="1.2"/>
<line x1="304.4" y1="413" x2="314.4" y2="413" stroke="#333" stroke-width="1.2"/>
<line x1="304.4" y1="416" x2="314.4" y2="416" stroke="#333" stroke-width="1.2"/>
<line x1="309.4" y1="413" x2="309.4" y2="416" stroke="#333" stroke-width="1.2"/>
<text transform="translate(202.3,462.5) rotate(-45)" font-size="8" text-anchor="end" fill="#222" textLength="27" lengthAdjust="spacingAndGlyphs">Vehicle</text>
<text transform="translate(238.3,462.5) rotate(-45)" font-size="8" text-anchor="end" fill="#222" textLength="30" lengthAdjust="spacingAndGlyphs">MP-A08</text>
<text transform="translate(275.3,462.5) rotate(-45)" font-size="8" text-anchor="end" fill="#222" textLength="40" lengthAdjust="spacingAndGlyphs">Venetoclax</text>
<text transform="translate(312.3,462.5) rotate(-45)" font-size="8" text-anchor="end" fill="#222" textLength="19.5" lengthAdjust="spacingAndGlyphs">Dual</text>
<text x="343.5" y="327.8" font-size="11.5" text-anchor="start" font-weight="bold" fill="#000" >I</text>
<text x="425" y="328" font-size="9.2" text-anchor="start" font-weight="normal" fill="#222" textLength="30" lengthAdjust="spacingAndGlyphs">AML11</text>
<line x1="368" y1="352" x2="368" y2="455.2" stroke="#151515" stroke-width="1.3"/>
<line x1="367.4" y1="454.6" x2="513.4" y2="454.6" stroke="#151515" stroke-width="1.3"/>
<line x1="365" y1="454.6" x2="368" y2="454.6" stroke="#151515" stroke-width="1.1"/>
<text x="363" y="457.7" font-size="8.8" text-anchor="end" font-weight="normal" fill="#222" textLength="4.3" lengthAdjust="spacingAndGlyphs">0</text>
<line x1="365" y1="430" x2="368" y2="430" stroke="#151515" stroke-width="1.1"/>
<text x="363" y="433.1" font-size="8.8" text-anchor="end" font-weight="normal" fill="#222" textLength="4.3" lengthAdjust="spacingAndGlyphs">2</text>
<line x1="365" y1="405.4" x2="368" y2="405.4" stroke="#151515" stroke-width="1.1"/>
<text x="363" y="408.5" font-size="8.8" text-anchor="end" font-weight="normal" fill="#222" textLength="4.3" lengthAdjust="spacingAndGlyphs">4</text>
<line x1="365" y1="380.8" x2="368" y2="380.8" stroke="#151515" stroke-width="1.1"/>
<text x="363" y="383.9" font-size="8.8" text-anchor="end" font-weight="normal" fill="#222" textLength="4.3" lengthAdjust="spacingAndGlyphs">6</text>
<line x1="365" y1="356.2" x2="368" y2="356.2" stroke="#151515" stroke-width="1.1"/>
<text x="363" y="359.3" font-size="8.8" text-anchor="end" font-weight="normal" fill="#222" textLength="4.3" lengthAdjust="spacingAndGlyphs">8</text>
<line x1="386.4" y1="454.6" x2="386.4" y2="457.6" stroke="#151515" stroke-width="1.1"/>
<line x1="423" y1="454.6" x2="423" y2="457.6" stroke="#151515" stroke-width="1.1"/>
<line x1="459.6" y1="454.6" x2="459.6" y2="457.6" stroke="#151515" stroke-width="1.1"/>
<line x1="496.4" y1="454.6" x2="496.4" y2="457.6" stroke="#151515" stroke-width="1.1"/>
<text transform="translate(351,432) rotate(-90)" font-size="8.5" fill="#222" textLength="52" lengthAdjust="spacingAndGlyphs">% hCD45<tspan font-size="5.6" dy="-3">+</tspan><tspan dy="3"> cells</tspan></text>
<line x1="391.4" y1="340.4" x2="501.6" y2="340.4" stroke="#333" stroke-width="1.1"/>
<text x="427.6" y="336.8" font-size="7.4" text-anchor="start" font-weight="normal" fill="#222" textLength="23.4" lengthAdjust="spacingAndGlyphs">p&lt;0.01</text>
<line x1="423" y1="351.4" x2="501.6" y2="351.4" stroke="#333" stroke-width="1.1"/>
<text x="444" y="347.8" font-size="7.4" text-anchor="start" font-weight="normal" fill="#222" textLength="24.4" lengthAdjust="spacingAndGlyphs">p=0.03</text>
<line x1="461" y1="362.6" x2="501.6" y2="362.6" stroke="#333" stroke-width="1.1"/>
<text x="469" y="359" font-size="7.4" text-anchor="start" font-weight="normal" fill="#222" textLength="23.4" lengthAdjust="spacingAndGlyphs">p=0.04</text>
<circle cx="386.4" cy="380" r="2.25" fill="#cf0a2c"/>
<circle cx="386.4" cy="389.6" r="2.25" fill="#cf0a2c"/>
<circle cx="386.4" cy="395" r="2.25" fill="#cf0a2c"/>
<circle cx="386.4" cy="404" r="2.25" fill="#cf0a2c"/>
<circle cx="382" cy="416.4" r="2.25" fill="#cf0a2c"/>
<circle cx="390.4" cy="415.6" r="2.25" fill="#cf0a2c"/>
<circle cx="386.4" cy="425" r="2.25" fill="#cf0a2c"/>
<circle cx="386.4" cy="432.6" r="2.25" fill="#cf0a2c"/>
<line x1="374.4" y1="407" x2="398.4" y2="407" stroke="#333" stroke-width="1.2"/>
<line x1="380.4" y1="401" x2="392.4" y2="401" stroke="#333" stroke-width="1.2"/>
<line x1="380.4" y1="413.4" x2="392.4" y2="413.4" stroke="#333" stroke-width="1.2"/>
<line x1="386.4" y1="401" x2="386.4" y2="413.4" stroke="#333" stroke-width="1.2"/>
<rect x="417.2" y="403.6" width="3.6" height="3.6" fill="#1b5a95"/>
<rect x="425.2" y="405.6" width="3.6" height="3.6" fill="#1b5a95"/>
<rect x="417.2" y="408.6" width="3.6" height="3.6" fill="#1b5a95"/>
<rect x="425.2" y="411.8" width="3.6" height="3.6" fill="#1b5a95"/>
<rect x="417.2" y="433.2" width="3.6" height="3.6" fill="#1b5a95"/>
<rect x="425.2" y="432.2" width="3.6" height="3.6" fill="#1b5a95"/>
<circle cx="423" cy="418" r="2.25" fill="#1b5a95"/>
<line x1="411" y1="417.6" x2="435" y2="417.6" stroke="#333" stroke-width="1.2"/>
<line x1="417" y1="412.6" x2="429" y2="412.6" stroke="#333" stroke-width="1.2"/>
<line x1="417" y1="422.4" x2="429" y2="422.4" stroke="#333" stroke-width="1.2"/>
<line x1="423" y1="412.6" x2="423" y2="422.4" stroke="#333" stroke-width="1.2"/>
<path d="M459.6,363.9 L461.8,367.8 L457.4,367.8 Z" fill="#3fb94a"/>
<path d="M464,400.3 L466.2,404.2 L461.8,404.2 Z" fill="#3fb94a"/>
<path d="M456,403.9 L458.2,407.8 L453.8,407.8 Z" fill="#3fb94a"/>
<path d="M459.6,409.3 L461.8,413.2 L457.4,413.2 Z" fill="#3fb94a"/>
<path d="M459.6,418.9 L461.8,422.8 L457.4,422.8 Z" fill="#3fb94a"/>
<path d="M456,430.9 L458.2,434.8 L453.8,434.8 Z" fill="#3fb94a"/>
<path d="M464,430.9 L466.2,434.8 L461.8,434.8 Z" fill="#3fb94a"/>
<line x1="447.6" y1="410" x2="471.6" y2="410" stroke="#333" stroke-width="1.2"/>
<line x1="453.6" y1="400.8" x2="465.6" y2="400.8" stroke="#333" stroke-width="1.2"/>
<line x1="453.6" y1="418.4" x2="465.6" y2="418.4" stroke="#333" stroke-width="1.2"/>
<line x1="459.6" y1="400.8" x2="459.6" y2="418.4" stroke="#333" stroke-width="1.2"/>
<path d="M496.4,419.5 L498.6,415.6 L494.2,415.6 Z" fill="#5a1c7c"/>
<path d="M496.4,424.1 L498.6,420.2 L494.2,420.2 Z" fill="#5a1c7c"/>
<path d="M488.4,434.5 L490.6,430.6 L486.2,430.6 Z" fill="#5a1c7c"/>
<path d="M496.4,433.1 L498.6,429.2 L494.2,429.2 Z" fill="#5a1c7c"/>
<path d="M504,437.1 L506.2,433.2 L501.8,433.2 Z" fill="#5a1c7c"/>
<path d="M496.4,439.1 L498.6,435.2 L494.2,435.2 Z" fill="#5a1c7c"/>
<path d="M496.4,444.1 L498.6,440.2 L494.2,440.2 Z" fill="#5a1c7c"/>
<line x1="484.4" y1="431.4" x2="508.4" y2="431.4" stroke="#333" stroke-width="1.2"/>
<line x1="490.4" y1="428" x2="502.4" y2="428" stroke="#333" stroke-width="1.2"/>
<line x1="490.4" y1="434.6" x2="502.4" y2="434.6" stroke="#333" stroke-width="1.2"/>
<line x1="496.4" y1="428" x2="496.4" y2="434.6" stroke="#333" stroke-width="1.2"/>
<text transform="translate(389.8,462.5) rotate(-45)" font-size="8" text-anchor="end" fill="#222" textLength="27" lengthAdjust="spacingAndGlyphs">Vehicle</text>
<text transform="translate(426.3,462.5) rotate(-45)" font-size="8" text-anchor="end" fill="#222" textLength="30" lengthAdjust="spacingAndGlyphs">MP-A08</text>
<text transform="translate(462.8,462.5) rotate(-45)" font-size="8" text-anchor="end" fill="#222" textLength="40" lengthAdjust="spacingAndGlyphs">Venetoclax</text>
<text transform="translate(499.8,462.5) rotate(-45)" font-size="8" text-anchor="end" fill="#222" textLength="19.5" lengthAdjust="spacingAndGlyphs">Dual</text>
<rect x="0.5" y="0.5" width="519" height="495" fill="none" stroke="#000" stroke-width="1.2"/>
</svg></body></html>
